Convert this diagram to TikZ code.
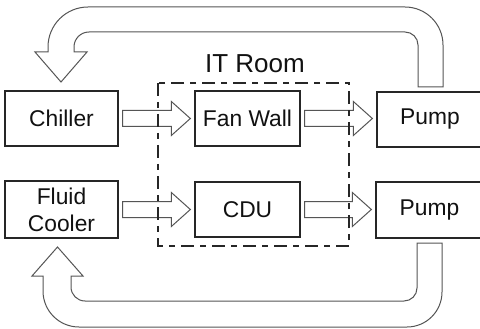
\documentclass[tikz,border=0pt]{standalone}
\usepackage{fontspec}
\setmainfont{Liberation Sans}
\usetikzlibrary{calc}
\definecolor{boxline}{HTML}{262626}
\definecolor{arrline}{HTML}{555555}
\definecolor{txt}{HTML}{111111}
\tikzset{
  box/.style={draw=boxline, line width=1.3pt, fill=white, inner sep=0pt,
    text=txt, font=\fontsize{22.8}{27}\selectfont, align=center},
  blk/.style={draw=arrline, line width=1pt, fill=white, line join=miter},
  loopar/.style={draw=arrline, line width=1pt, fill=white, line join=miter},
  room/.style={draw=boxline, line width=1.3pt, dash pattern=on 13pt off 6pt on 6pt off 6pt},
}
\newcommand\blockarr[2]{%
  \draw[blk] let \p1=($(#1.east)+(4,0)$), \p2=($(#2.west)+(-4,0)$) in
    (\x1,\y1+8pt) -- (\x2-19pt,\y1+8pt) -- (\x2-19pt,\y1+17pt) -- (\x2,\y1)
    -- (\x2-19pt,\y1-17pt) -- (\x2-19pt,\y1-8pt) -- (\x1,\y1-8pt) -- cycle;}
\begin{document}
\begin{tikzpicture}[x=1pt,y=-1pt]
\useasboundingbox (0,0) rectangle (480,329);
\clip (0,0) rectangle (480,329);
\fill[white] (0,0) rectangle (480,329);

% boxes
\node[box, minimum width=113, minimum height=55] (chiller) at (61.5,118.5) {Chiller};
\node[box, minimum width=105, minimum height=55] (fanwall) at (247.5,118.5) {Fan Wall};
\node[box, minimum width=106, minimum height=55] (pumpA) at (430,119.5) {Pump};
\node[box, minimum width=113, minimum height=57] (cooler) at (61.5,209.5) {Fluid\\Cooler};
\node[box, minimum width=105, minimum height=55] (cdu) at (247.5,209.5) {CDU};
\node[box, minimum width=107, minimum height=56] (pumpB) at (429.5,210) {Pump};

% block arrows
\blockarr{chiller}{fanwall}
\blockarr{fanwall}{pumpA}
\blockarr{cooler}{cdu}
\blockarr{cdu}{pumpB}

% top return loop (pumpA -> chiller)
\draw[loopar] (443,87) -- (443,45) arc[start angle=0,end angle=-90,radius=38]
  -- (88,7) arc[start angle=-90,end angle=-180,radius=40]
  -- (48,52) -- (35,52) -- (61,82) -- (87,52) -- (74,52) -- (74,47)
  arc[start angle=180,end angle=270,radius=15]
  -- (405,32) arc[start angle=270,end angle=360,radius=13]
  -- (418,87) -- cycle;

% bottom return loop (pumpB -> cooler)
\draw[loopar] (442,243) -- (442,292) arc[start angle=0,end angle=90,radius=35]
  -- (79,327) arc[start angle=90,end angle=180,radius=36]
  -- (43,276) -- (32,276) -- (57.5,247) -- (83,276) -- (71,276) -- (71,287)
  arc[start angle=180,end angle=90,radius=14]
  -- (404,301) arc[start angle=90,end angle=0,radius=13]
  -- (417,243) -- cycle;

% IT room
\draw[room] (158,83) rectangle (349,246);
\node[anchor=base, text=txt, font=\fontsize{26}{31}\selectfont, inner sep=0pt] (itroom) at (255,73) {IT Room};
\end{tikzpicture}
\end{document}
